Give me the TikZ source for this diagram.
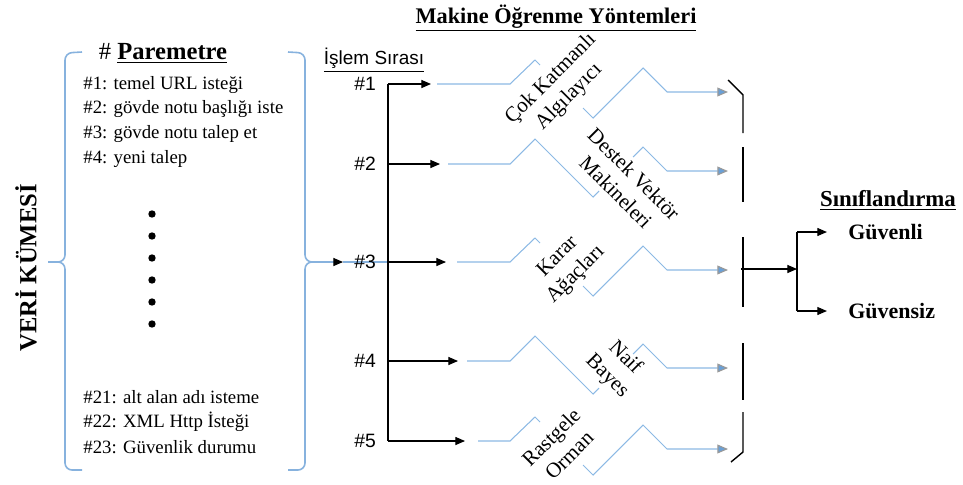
\documentclass[tikz,border=0pt]{standalone}
\usepackage{fontspec}
\setmainfont{Liberation Serif}
\setsansfont{Liberation Sans}
\usepackage{xcolor}
\usepackage{tikz}
\usetikzlibrary{
  arrows.meta,
  positioning
}
\definecolor{lineblue}{RGB}{140,185,228}
\definecolor{tipblue}{RGB}{105,160,215}
\definecolor{braceblue}{RGB}{135,178,222}

\begin{document}
\begin{tikzpicture}[x=0.02cm,y=-0.02cm,
  blueline/.style={lineblue,line width=0.6pt},
  bluearrow/.style={blueline,-{Triangle[length=6pt,width=5pt,fill=tipblue,color=gray!80]}},
  braceline/.style={braceblue,line width=0.9pt},
  blackarrow/.style={black,line width=0.6pt,-{Triangle[length=5.5pt,width=4.6pt]}},
  trunk/.style={black,line width=0.6pt},
  gatebar/.style={black,line width=0.8pt},
  paramtext/.style={anchor=west,inner sep=0pt,font=\fontsize{10.7}{13}\selectfont},
  rowlabel/.style={font=\sffamily\fontsize{11}{13}\selectfont},
  methodtext/.style={align=center,inner sep=0pt,font=\fontsize{12}{14.5}\selectfont},
  headline/.style={font=\bfseries\fontsize{12.7}{15}\selectfont},
  classlabel/.style={anchor=west,inner sep=0pt,font=\bfseries\fontsize{12.5}{15}\selectfont},
  listdot/.style={circle,fill=black,inner sep=0pt,minimum size=4.2pt}
]
\useasboundingbox (0,0) rectangle (963,484);

% veri kumesi ve parametreler
\node[rotate=90,font=\bfseries\fontsize{14}{16}\selectfont] (veri) at (26,268) {VERİ KÜMESİ};
\draw[braceline,rounded corners=4pt] (82,52) -- (65,53) -- (65,262) -- (48,262);
\draw[braceline,rounded corners=4pt] (48,262) -- (65,262) -- (65,470) -- (82,470);
\draw[braceline,rounded corners=4pt] (288,52) -- (305,53) -- (305,262) -- (320,262);
\draw[braceline,rounded corners=4pt] (320,262) -- (305,262) -- (305,470) -- (288,470);

\node[font=\fontsize{14}{16}\selectfont] (parbaslik) at (163,53) {\# \underline{\textbf{Paremetre}}};
\node[paramtext] (p1) at (83,85) {\#1: temel URL isteği};
\node[paramtext] (p2) at (83,109) {\#2: gövde notu başlığı iste};
\node[paramtext] (p3) at (83,134) {\#3: gövde notu talep et};
\node[paramtext] (p4) at (83,159) {\#4: yeni talep};
\foreach \y in {214,236,258,280,302,324}
  \node[listdot] (nokta\y) at (152,\y) {};
\node[paramtext] (p21) at (83,397) {\#21: alt alan adı isteme};
\node[paramtext] (p22) at (83,422) {\#22: XML Http İsteği};
\node[paramtext] (p23) at (83,447) {\#23: Güvenlik durumu};

% islem sirasi
\coordinate (veriuc) at (320,262);
\coordinate (girdi) at (343,262);
\draw[braceline,line width=0.6pt,-{Triangle[length=5.5pt,width=4.6pt,black]}] (veriuc) -- (girdi);
\draw[braceline,line width=0.6pt] (girdi) -- (388,262);
\node[rowlabel,font=\sffamily\fontsize{10.8}{13}\selectfont] (islem) at (374,60) {\underline{İşlem Sırası}};
\foreach \i/\y/\xe in {1/84/431,2/164/440,3/262/446,4/361/458,5/441/465} {
  \node[rowlabel] (sira\i) at (365,\y) {\#\i};
  \coordinate (k\i) at (388,\y);
  \coordinate (u\i) at (\xe,\y);
  \draw[blackarrow] (k\i) -- (u\i);
}
\draw[trunk] (k1) -- (k5);

% yontemler
\node[headline] (yontem) at (556,18) {\underline{Makine Öğrenme Yöntemleri}};
\foreach \y/\xs in {84/437,262/457,441/478} {
  \draw[blueline] (\xs,\y) -- (510,\y) -- (535,\y-24) -- (540,\y-19);
  \draw[bluearrow] (583,\y+24) -- (593,\y+34) -- (643,\y-16) -- (667,\y+8) -- (728,\y+8);
}
\foreach \y/\xs in {164/448,361/467} {
  \draw[blueline] (\xs,\y) -- (510,\y) -- (535,\y-25) -- (593,\y+33) -- (599,\y+27);
  \draw[bluearrow] (633,\y-7) -- (643,\y-17) -- (667,\y+7) -- (728,\y+7);
}
\node[methodtext,rotate=45] (mlp) at (560,88) {Çok Katmanlı\\Algılayıcı};
\node[methodtext,rotate=-45] (svm) at (625,183) {Destek Vektör\\Makineleri};
\node[methodtext,rotate=45] (agac) at (567,266) {Karar\\Ağaçları};
\node[methodtext,rotate=-45] (bayes) at (616,367) {Naif\\Bayes};
\node[methodtext,rotate=45] (orman) at (560,446) {Rastgele\\Orman};

\draw[gatebar] (728,80) -- (743,95) -- (743,133);
\draw[gatebar] (743,147) -- (743,202);
\draw[gatebar] (743,237) -- (743,307);
\draw[gatebar] (743,343) -- (743,400);
\draw[gatebar] (743,412) -- (743,452) -- (731,462);

% siniflandirma
\node[headline,font=\bfseries\fontsize{13}{15}\selectfont] (sinif) at (888,200) {\underline{Sınıflandırma}};
\node[classlabel] (guvenli) at (848,232) {Güvenli};
\node[classlabel] (guvensiz) at (848,311) {Güvensiz};
\coordinate (cikis) at (741,269);
\coordinate (ayrim) at (797,269);
\coordinate (ust) at (797,232);
\coordinate (alt) at (797,311);
\draw[blackarrow] (cikis) -- (ayrim);
\draw[trunk] (ust) -- (alt);
\draw[blackarrow,shorten >=12pt] (ust) -- (guvenli);
\draw[blackarrow,shorten >=12pt] (alt) -- (guvensiz);

\end{tikzpicture}
\end{document}
